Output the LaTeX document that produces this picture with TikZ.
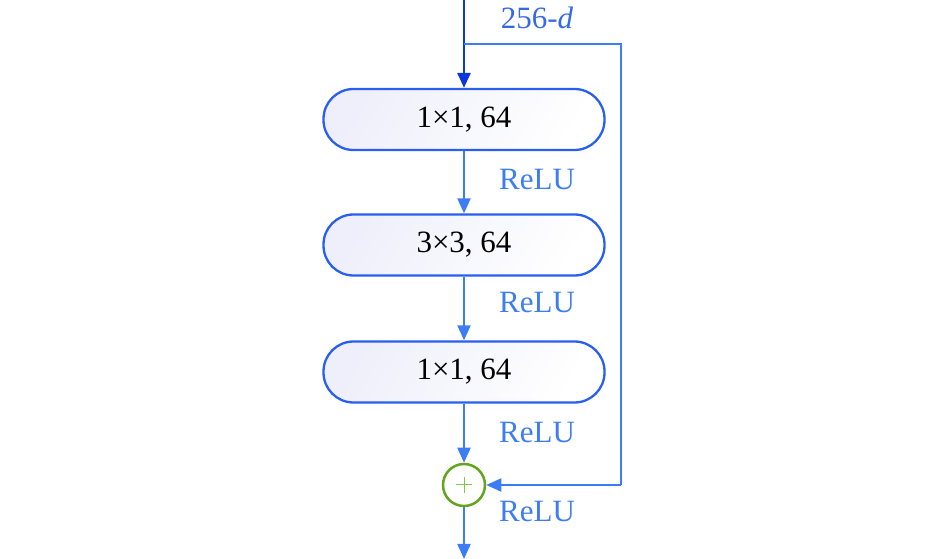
\documentclass[tikz,border=0pt]{standalone}
\usepackage{fontspec}
\setmainfont{Liberation Serif}
\usetikzlibrary{arrows.meta}
\definecolor{darkline}{RGB}{10,55,215}
\definecolor{boxline}{RGB}{40,95,240}
\definecolor{arrline}{RGB}{60,125,245}
\definecolor{labelblue}{RGB}{60,125,240}
\definecolor{dblue}{RGB}{55,105,230}
\definecolor{cgreen}{RGB}{100,165,30}
\definecolor{pgreen}{RGB}{130,200,70}
\definecolor{boxfill}{RGB}{238,239,250}
\tikzset{
  layerbox/.style={draw=boxline, line width=2.3pt, rounded corners=30pt,
    minimum width=281pt, minimum height=61pt, top color=white, bottom color=white,
    shading=axis, left color=boxfill, right color=white, shading angle=60,
    font=\fontsize{31}{34}\selectfont, text=black, inner sep=0pt},
  flow/.style={draw=arrline, line width=2pt, -{Triangle[length=15pt,width=13pt]}},
  relu/.style={text=labelblue, font=\fontsize{31}{34}\selectfont, anchor=center},
  addnode/.style={circle, draw=cgreen, line width=2.5pt, minimum size=42pt, inner sep=0pt, fill=white}
}
\begin{document}
\begin{tikzpicture}[x=1pt,y=1pt]
\useasboundingbox (0,0) rectangle (945,559);
\coordinate (top) at (464,559);
\coordinate (split) at (464,515);
\coordinate (rt) at (621,515);
\coordinate (rb) at (621,74);
\coordinate (bot) at (464,0);
\node[layerbox] (b1) at (464,439.5) {1×1, 64};
\node[layerbox] (b2) at (464,314) {3×3, 64};
\node[layerbox] (b3) at (464,187) {1×1, 64};
\node[addnode] (add) at (464,74) {};
\draw[pgreen, line width=1pt] ([xshift=-8pt]add.center) -- ([xshift=8pt]add.center)
  ([yshift=-8pt]add.center) -- ([yshift=8pt]add.center);
\draw[draw=darkline, line width=2.8pt, -{Triangle[length=15pt,width=13pt]}] (top) -- (b1.north);
\draw[draw=arrline, line width=2pt] (split) -- (rt) -- (rb);
\draw[flow] (rb) -- (add.east);
\draw[flow] (b1.south) -- (b2.north);
\draw[flow] (b2.south) -- (b3.north);
\draw[flow] (b3.south) -- (add.north);
\draw[flow] (add.south) -- (bot);
\node[text=dblue, font=\fontsize{31}{34}\selectfont] (dim) at (537,541) {256-\textit{d}};
\node[relu] (r1) at (537,379) {ReLU};
\node[relu] (r2) at (537,256) {ReLU};
\node[relu] (r3) at (537,126) {ReLU};
\node[relu] (r4) at (537,47) {ReLU};
\end{tikzpicture}
\end{document}
